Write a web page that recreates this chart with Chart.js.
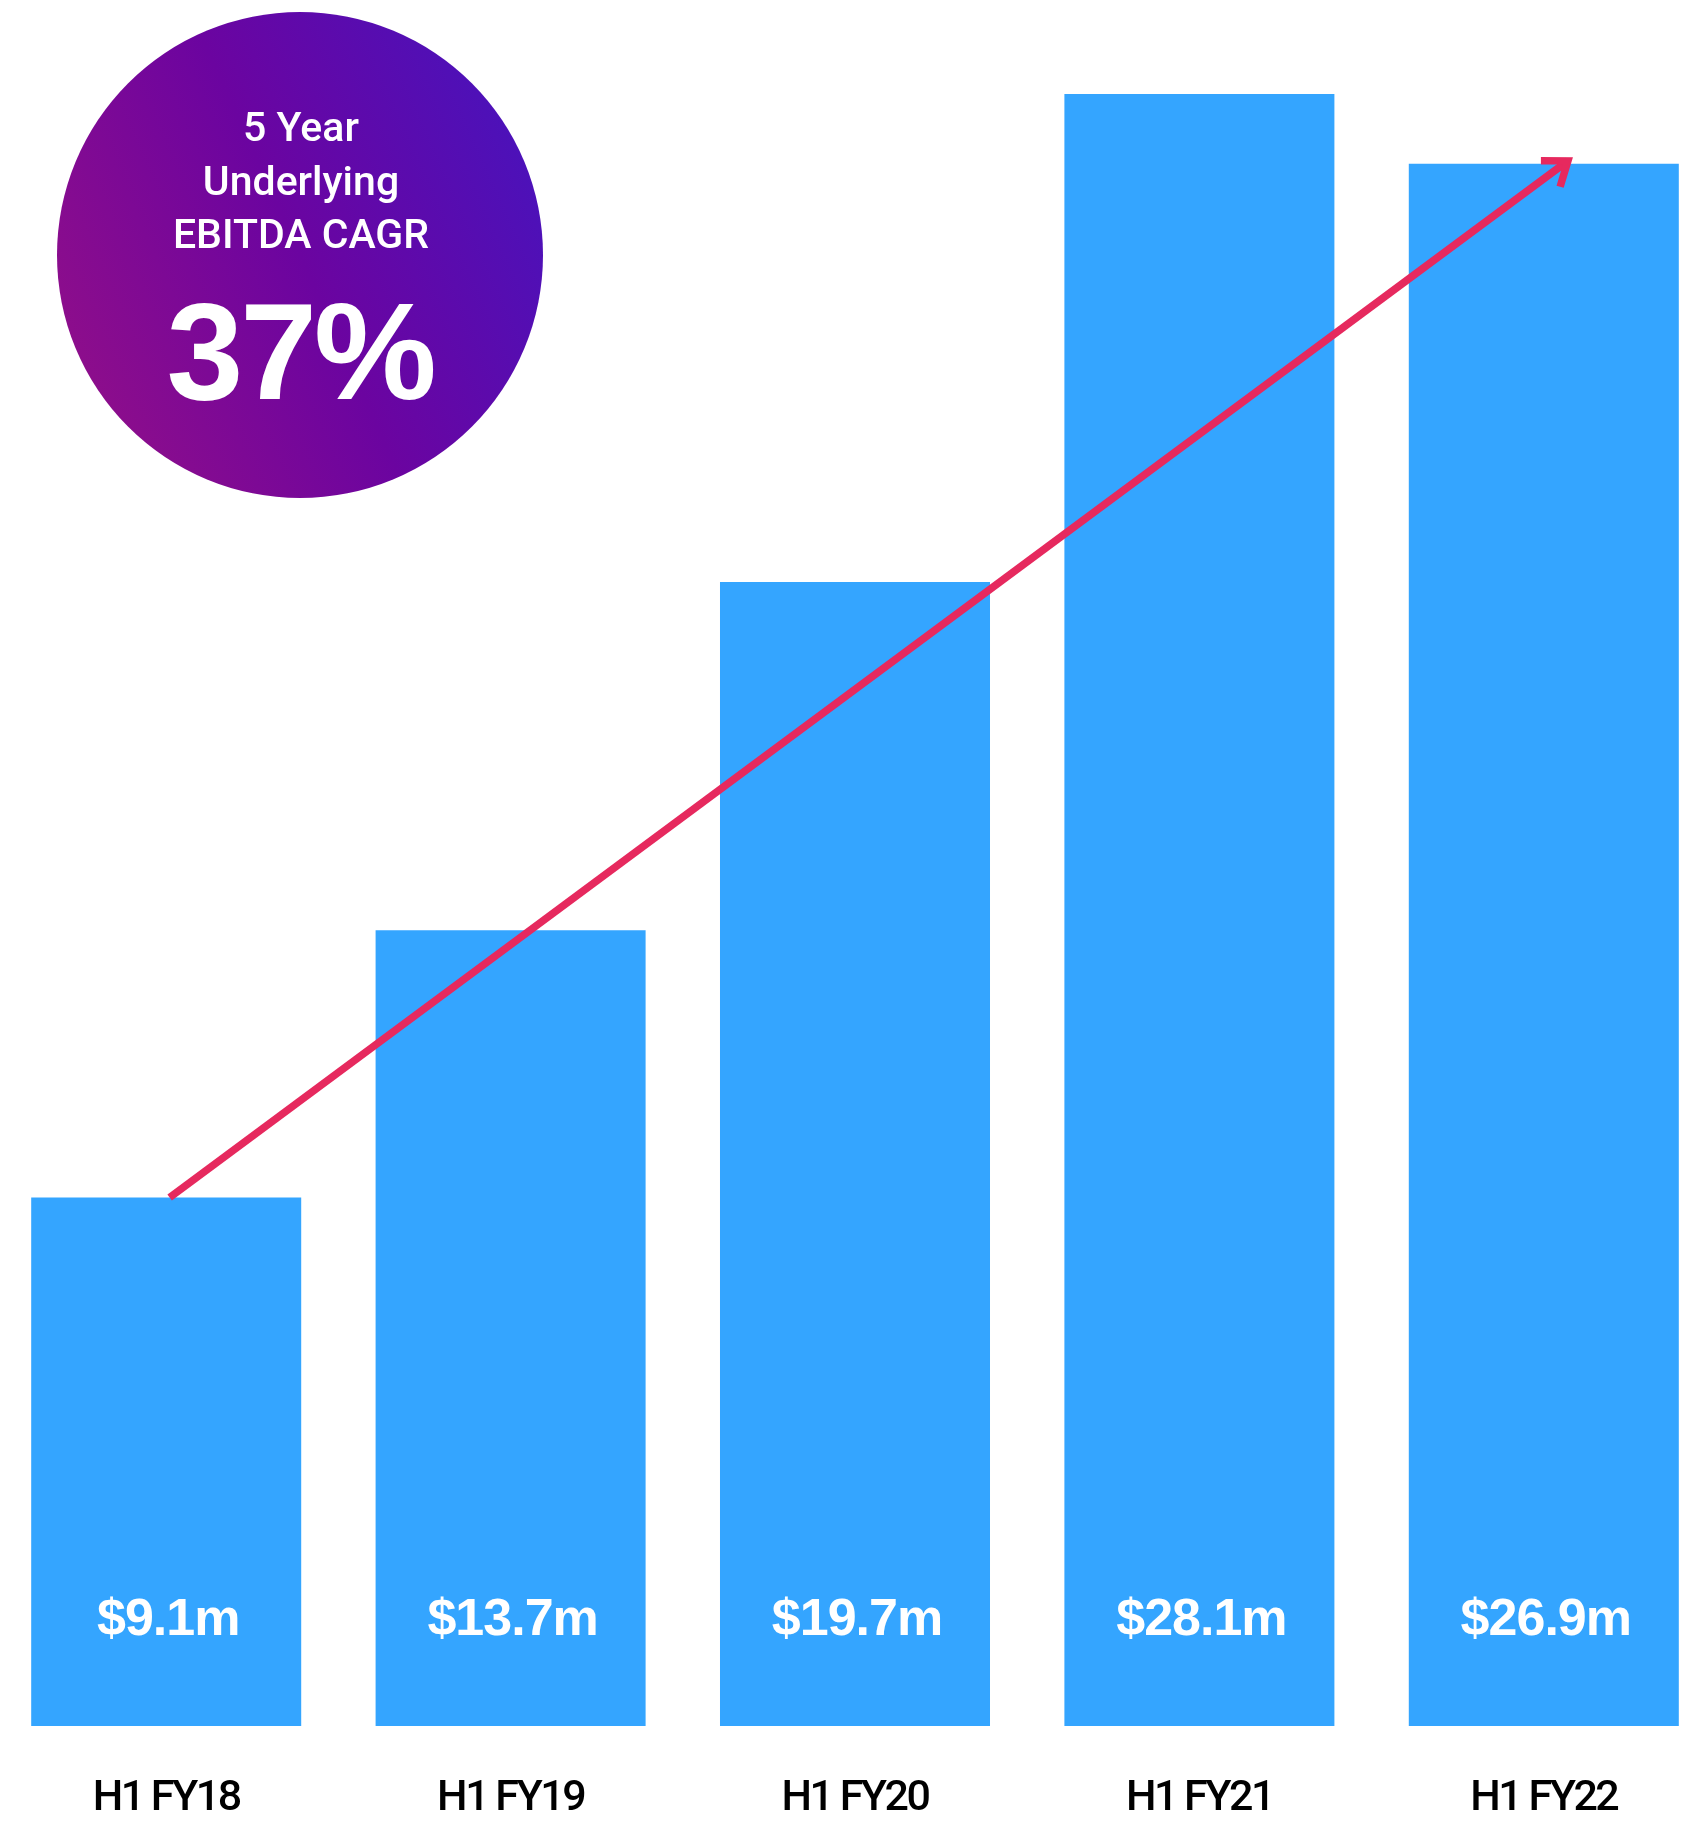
<!DOCTYPE html>
<html>
<head>
<meta charset="utf-8">
<script src="https://cdn.jsdelivr.net/npm/chart.js@4.4.1/dist/chart.umd.min.js"></script>
<style>
  html, body { margin: 0; padding: 0; background: #fff; overflow: hidden; }
  #wrap { position: absolute; left: -6px; top: 0; width: 1722px; height: 1825px; }
</style>
</head>
<body>
<div id="wrap"><canvas id="ebitdaChart"></canvas></div>
<script>
// Half-year underlying EBITDA ($m)
const periods = ['H1 FY18', 'H1 FY19', 'H1 FY20', 'H1 FY21', 'H1 FY22'];
const ebitda = [9.1, 13.7, 19.7, 28.1, 26.9];

// Growth arrow: [category index, value] at each end
const trendFrom = [0.01, 9.1];
const trendTo = [4.07, 26.95];

// Badge text
const badgeLines = ['5 Year', 'Underlying', 'EBITDA CAGR'];
const badgeValue = '37%';

const barColor = '#34a5ff';
const arrowColor = '#e6295e';

// $x.xm labels near the foot of each bar
const valueLabels = {
    id: 'valueLabels',
    afterDatasetsDraw(chart) {
        const ctx = chart.ctx;
        const yScale = chart.scales.y;
        const meta = chart.getDatasetMeta(0);
        ctx.save();
        ctx.fillStyle = '#fff';
        ctx.font = 'bold 52px "Liberation Sans", Arial, sans-serif';
        ctx.letterSpacing = '-1px';
        ctx.textAlign = 'center';
        ctx.textBaseline = 'alphabetic';
        meta.data.forEach((bar, i) => {
            ctx.fillText('$' + ebitda[i].toFixed(1) + 'm', bar.x + 2, yScale.bottom - 91);
        });
        ctx.restore();
    }
};

// Trend arrow across the bars
const trendArrow = {
    id: 'trendArrow',
    afterDatasetsDraw(chart) {
        const ctx = chart.ctx;
        const xs = chart.scales.x, ys = chart.scales.y;
        const x0 = xs.getPixelForValue(trendFrom[0]), y0 = ys.getPixelForValue(trendFrom[1]);
        const x1 = xs.getPixelForValue(trendTo[0]), y1 = ys.getPixelForValue(trendTo[1]);
        const a = Math.atan2(y1 - y0, x1 - x0);
        const head = 27, spread = 0.64;
        ctx.save();
        ctx.strokeStyle = arrowColor;
        ctx.lineWidth = 7.5;
        ctx.lineCap = 'butt';
        ctx.lineJoin = 'miter';
        ctx.beginPath();
        ctx.moveTo(x0, y0);
        ctx.lineTo(x1, y1);
        ctx.stroke();
        ctx.beginPath();
        ctx.moveTo(x1 + head * Math.cos(a + Math.PI - spread), y1 + head * Math.sin(a + Math.PI - spread));
        ctx.lineTo(x1, y1);
        ctx.lineTo(x1 + head * Math.cos(a + Math.PI + spread), y1 + head * Math.sin(a + Math.PI + spread));
        ctx.stroke();
        ctx.restore();
    }
};

// Purple CAGR badge, top left
const cagrBadge = {
    id: 'cagrBadge',
    afterDraw(chart) {
        const ctx = chart.ctx;
        const cx = 306, cy = 255, r = 243;
        ctx.save();
        ctx.letterSpacing = '0px';
        const g = ctx.createLinearGradient(cx - r, cy + r * 0.45, cx + r, cy - r * 0.45);
        g.addColorStop(0, '#8f0e8a');
        g.addColorStop(0.5, '#6b04a0');
        g.addColorStop(1, '#4a12bb');
        ctx.fillStyle = g;
        ctx.beginPath();
        ctx.arc(cx, cy, r, 0, Math.PI * 2);
        ctx.fill();

        ctx.fillStyle = '#fff';
        ctx.textAlign = 'center';
        ctx.textBaseline = 'alphabetic';
        ctx.font = '500 41px Roboto, "Liberation Sans", sans-serif';
        [141, 195, 248].forEach((by, i) => ctx.fillText(badgeLines[i], cx + 1, by));
        ctx.font = 'bold 138px "Liberation Sans", Arial, sans-serif';
        ctx.letterSpacing = '-3px';
        ctx.fillText(badgeValue, cx, 399);
        ctx.restore();
    }
};

// tighter spacing for the axis labels
const tightText = {
    id: 'tightText',
    beforeDraw(chart) { chart.ctx.letterSpacing = '-2.5px'; },
    afterDraw(chart) { chart.ctx.letterSpacing = '0px'; }
};

const ctx = document.getElementById('ebitdaChart').getContext('2d');
new Chart(ctx, {
    type: 'bar',
    data: {
        labels: periods,
        datasets: [{
            data: ebitda,
            backgroundColor: barColor,
            borderWidth: 0,
            barPercentage: 0.784,
            categoryPercentage: 1
        }]
    },
    options: {
        responsive: true,
        maintainAspectRatio: false,
        animation: false,
        layout: { padding: 0 },
        plugins: {
            legend: { display: false },
            tooltip: { enabled: false }
        },
        scales: {
            x: {
                grid: { display: false, drawTicks: false },
                border: { display: false },
                ticks: {
                    color: '#000',
                    font: { family: 'Roboto, "Liberation Sans", sans-serif', size: 43, weight: '500' },
                    padding: 47,
                    maxRotation: 0
                },
                afterFit(scale) { scale.height = 99; }
            },
            y: {
                display: false,
                min: 0,
                max: 29.72
            }
        }
    },
    plugins: [tightText, valueLabels, trendArrow, cagrBadge]
});
</script>
</body>
</html>
